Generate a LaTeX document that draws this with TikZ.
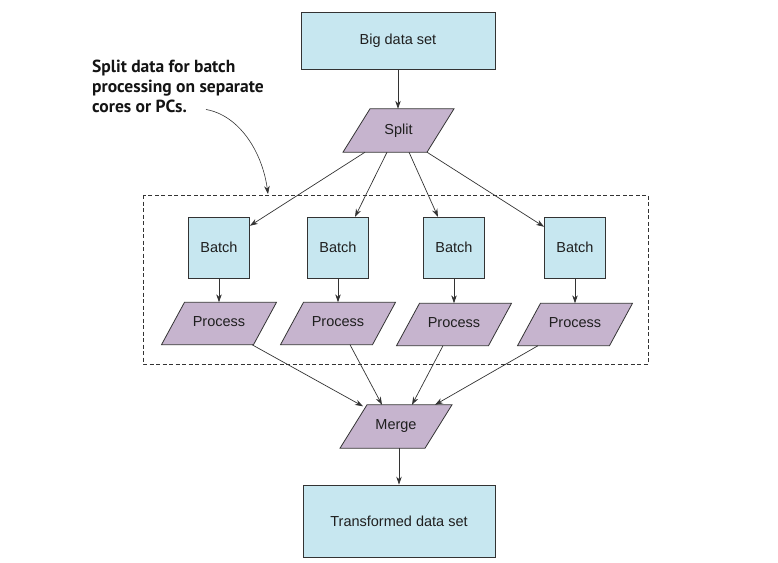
\documentclass[tikz,border=0pt]{standalone}
\usepackage{fontspec}
\setmainfont{Liberation Sans}
\newfontfamily\notefont{PT Sans}
\newfontfamily\labelfont{Liberation Sans}
\usetikzlibrary{calc,arrows.meta}
\definecolor{boxblue}{HTML}{C7E7F0}
\definecolor{boxpurple}{HTML}{C6B4CE}
\definecolor{edgegray}{HTML}{333333}
\begin{document}
\begin{tikzpicture}[x=1pt,y=-1pt,
  every node/.style={font=\labelfont\fontsize{14.5}{17}\selectfont, text=black!88},
  bluebox/.style={draw=edgegray, line width=0.8pt, fill=boxblue, inner sep=0pt},
  paranode/.style={inner sep=0pt, minimum height=43pt},
  conn/.style={draw=edgegray, line width=0.7pt, -{Stealth[length=8pt,width=5.5pt]}},
  notearrow/.style={draw=edgegray, line width=0.6pt, -{Stealth[length=8pt,width=5.5pt]}},
  groupbox/.style={draw=edgegray, line width=0.6pt, dash pattern=on 4pt off 2.5pt}
]
\useasboundingbox (0,0) rectangle (778,562);

% parallelogram helper: draws shape behind a named rectangular node
\newcommand\paradraw[3]{% name, half side, half slant
  \fill[boxpurple,draw=edgegray,line width=0.8pt]
    ($(#1.south)+(-#2-#3,0)$) -- ($(#1.south)+(#2-#3,0)$) --
    ($(#1.north)+(#2+#3,0)$) -- ($(#1.north)+(-#2+#3,0)$) -- cycle;}

% group box
\draw[groupbox] (143,195) rectangle (648,364);

% big data set
\node[bluebox, minimum width=194pt, minimum height=57pt] (big) at (398,40.5) {Big data set};

% split
\node[paranode, minimum width=84pt] (split) at (398.5,130.5) {};
\paradraw{split}{42}{13.5}
\node at (split.center) {Split};

% batches
\foreach \n/\x in {b1/219,b2/338,b3/454,b4/575}{
  \node[bluebox, minimum width=61pt, minimum height=61pt] (\n) at (\x,247.8) {Batch};
}

% processes
\foreach \n/\x/\y in {p1/219/323.5,p2/338/323.5,p3/454/324.5,p4/575/324.5}{
  \node[paranode, minimum width=92pt, minimum height=42pt] (\n) at (\x,\y) {};
  \paradraw{\n}{46}{11.5}
  \node at ($(\n.center)+(0,-1.5)$) {Process};
}

% merge
\node[paranode, minimum width=85pt] (merge) at (396,426.5) {};
\paradraw{merge}{42.5}{13.5}
\node at (merge.center) {Merge};

% transformed
\node[bluebox, minimum width=192pt, minimum height=72pt] (trans) at (399,521) {Transformed data set};

% connectors
\draw[conn] (big.south) -- (big.south |- split.north);
\draw[conn] ($(split.south)+(-33.5,0)$) -- ($(b1.east)+(0,-22)$);
\draw[conn] ($(split.south)+(-11.5,0)$) -- ($(b2.north)+(17,0)$);
\draw[conn] ($(split.south)+(10.5,0)$) -- ($(b3.north)+(-16,0)$);
\draw[conn] ($(split.south)+(28.5,0)$) -- ($(b4.west)+(0,-21)$);
\foreach \i in {1,2,3,4}{
  \draw[conn] (b\i.south) -- (p\i.north);
}
\draw[conn] ($(p1.south)+(33,0)$) -- ($(merge.north)+(-33,1.5)$);
\draw[conn] ($(p2.south)+(12,0)$) -- ($(merge.north)+(-14,0)$);
\draw[conn] ($(p3.south)+(-11,0)$) -- ($(merge.north)+(16,0)$);
\draw[conn] ($(p4.south)+(-37,0)$) -- ($(merge.north)+(39,0)$);
\draw[conn] (merge.south -| trans.north) -- (trans.north);

% annotation
\node[anchor=north west, align=left, inner sep=0pt,
      font=\notefont\bfseries\fontsize{17.5}{20.3}\selectfont, text=black!92] (note) at (92,59.5)
  {Split data for batch\\processing on separate\\cores or PCs.};
\coordinate (notestart) at (206,109.5);
\coordinate (noteend) at (268,194);
\draw[notearrow] (notestart) .. controls (238,115) and (262,150) .. (noteend);
\end{tikzpicture}
\end{document}
